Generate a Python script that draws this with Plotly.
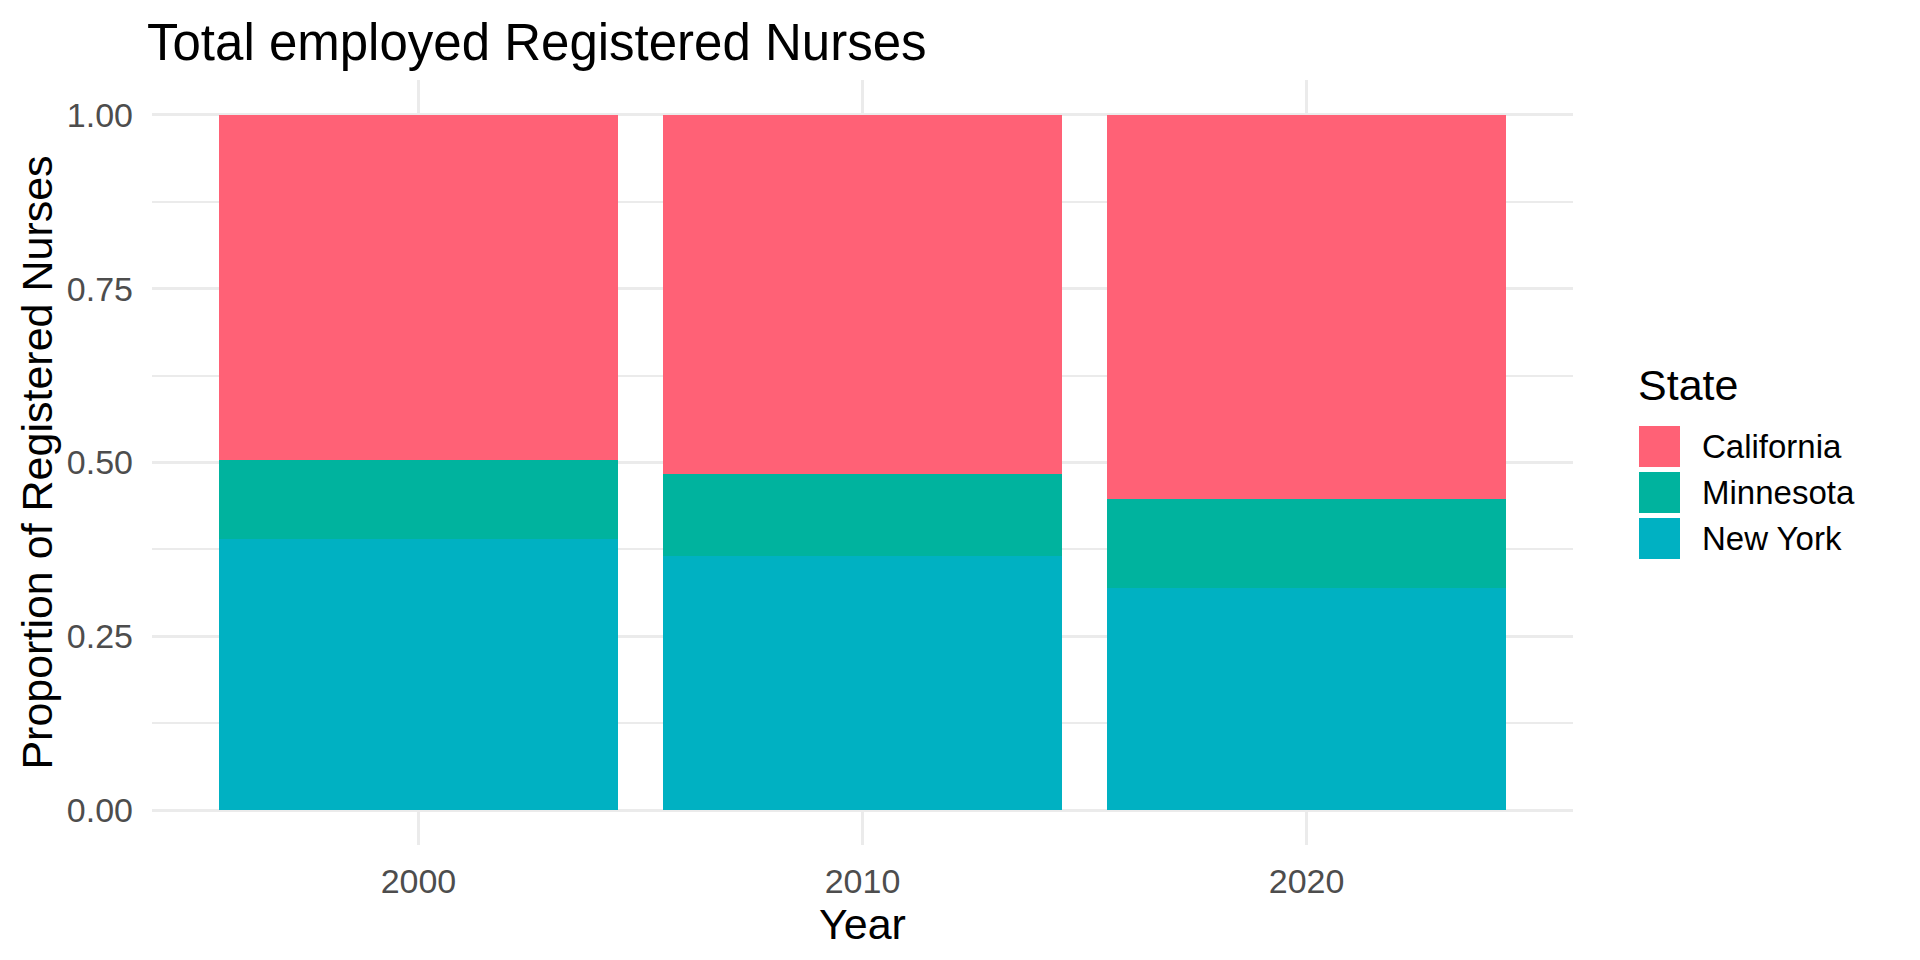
import plotly.graph_objects as go

# Proportion of employed RNs by state
years = ["2000", "2010", "2020"]
states = ["California", "Minnesota", "New York"]
california = [0.497, 0.516, 0.552]
minnesota = [0.113, 0.119, 0.128]
new_york = [0.390, 0.365, 0.320]

colors = {"California": "#FF6176", "Minnesota": "#00B39E", "New York": "#00B1C2"}
values = {"California": california, "Minnesota": minnesota, "New York": new_york}

FONT = "Liberation Sans, Arial, sans-serif"
GRID = "#EBEBEB"

# page body adds an 8px offset, so the figure is laid out 8px up/left
L, R, T, B = 144, 355, 72, 123
W, H = 1920, 960

fig = go.Figure()

# bottom of the stack first
for st in ["New York", "Minnesota", "California"]:
    fig.add_trace(go.Bar(
        x=years, y=values[st], name=st,
        marker=dict(color=colors[st], line=dict(width=0)),
        showlegend=False,
    ))

fig.update_layout(
    width=W, height=H, autosize=False,
    barmode="stack", bargap=0.1,
    plot_bgcolor="white", paper_bgcolor="white",
    margin=dict(l=L, r=R, t=T, b=B, pad=0),
    font=dict(family=FONT, color="black"),
    title=dict(
        text="Total employed Registered Nurses",
        font=dict(size=51, color="black"),
        x=139 / W, xref="container", xanchor="left",
        y=1 - 34 / H, yref="container", yanchor="middle",
    ),
)

fig.update_xaxes(
    type="category", range=[-0.6, 2.6],
    showgrid=True, gridcolor=GRID, gridwidth=3,
    showline=False, zeroline=False, ticks="",
    ticklabelstandoff=13,
    tickfont=dict(size=34, color="#4D4D4D"),
    title=dict(text="Year", font=dict(size=43, color="black"), standoff=7),
)

fig.update_yaxes(
    range=[-0.05, 1.05], tick0=0, dtick=0.25, tickformat=".2f",
    showgrid=True, gridcolor=GRID, gridwidth=3,
    minor=dict(dtick=0.125, showgrid=True, gridcolor=GRID, gridwidth=1.5),
    showline=False, zeroline=False, ticks="",
    ticklabelstandoff=18,
    tickfont=dict(size=34, color="#4D4D4D"),
    title=dict(text="Proportion of Registered Nurses",
               font=dict(size=43, color="black"), standoff=0),
)

# ggplot-style legend with large square keys; positions given in screen px
px_x = lambda sx: (sx - 8 - L) / (W - L - R)
px_y = lambda sy: (H - B - (sy - 8)) / (H - T - B)

fig.add_annotation(
    text="State", x=px_x(1636), y=px_y(385), xref="paper", yref="paper",
    xanchor="left", yanchor="middle", showarrow=False,
    font=dict(size=43, color="black"),
)
key_top = 426
for i, st in enumerate(states):
    y0 = key_top + i * 46
    fig.add_shape(
        type="rect", xref="paper", yref="paper",
        x0=px_x(1639), x1=px_x(1680), y0=px_y(y0 + 41), y1=px_y(y0),
        fillcolor=colors[st], line=dict(width=0),
    )
    fig.add_annotation(
        text=st, x=px_x(1700), y=px_y(y0 + 20.5), xref="paper", yref="paper",
        xanchor="left", yanchor="middle", showarrow=False,
        font=dict(size=33, color="black"),
    )

fig.write_html("out.html")
